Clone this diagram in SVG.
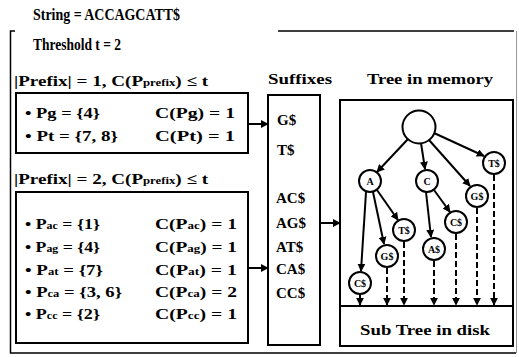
<svg xmlns="http://www.w3.org/2000/svg" width="519" height="357" viewBox="0 0 519 357">
<defs>
<marker id="ah" markerWidth="8" markerHeight="8" viewBox="0 0 10 10" refX="9" refY="5" orient="auto" markerUnits="userSpaceOnUse">
<path d="M0,0 L10,5 L0,10 Z" fill="#000"/>
</marker>
<style>
text{font-family:"Liberation Serif","Times New Roman",serif;font-weight:bold;fill:#000}
.t15{font-size:15px}
.t16{font-size:16px}
.lbl{font-size:10px;text-anchor:middle}
.sub{font-size:10px}
.box{fill:#fff;stroke:#000;stroke-width:2}
.frame{fill:none;stroke:#000;stroke-width:1.5}
.node{fill:#fff;stroke:#000;stroke-width:2}
.edge{fill:none;stroke:#000;stroke-width:2;marker-end:url(#ah)}
.dash{fill:none;stroke:#000;stroke-width:2;stroke-dasharray:6,3;marker-end:url(#ah)}
</style>
</defs>
<rect width="519" height="357" fill="#fff"/>

<g id="frame">
<path class="frame" d="M15,31 H10.5 V353 H516 M278,31 H514"/>
<line x1="516.5" y1="31" x2="516.5" y2="353" stroke="#999" stroke-width="1"/>
</g>

<g id="header">
<text class="t16" x="33" y="20" textLength="147" lengthAdjust="spacingAndGlyphs">String = ACCAGCATT$</text>
<text class="t16" x="33" y="50" textLength="88" lengthAdjust="spacingAndGlyphs">Threshold t = 2</text>
</g>

<g id="prefix1">
<text class="t15" x="14" y="86" textLength="194" lengthAdjust="spacingAndGlyphs">|Prefix| = 1, C(P<tspan class="sub">prefix</tspan>) ≤ t</text>
<rect class="box" x="16" y="93" width="232" height="60"/>
<text class="t15" x="25" y="118" textLength="75" lengthAdjust="spacingAndGlyphs">• Pg = {4}</text>
<text class="t15" x="155" y="118" textLength="80" lengthAdjust="spacingAndGlyphs">C(Pg) = 1</text>
<text class="t15" x="25" y="141" textLength="93" lengthAdjust="spacingAndGlyphs">• Pt = {7, 8}</text>
<text class="t15" x="155" y="141" textLength="80" lengthAdjust="spacingAndGlyphs">C(Pt) = 1</text>
</g>

<g id="prefix2">
<text class="t15" x="14" y="184" textLength="194" lengthAdjust="spacingAndGlyphs">|Prefix| = 2, C(P<tspan class="sub">prefix</tspan>) ≤ t</text>
<rect class="box" x="16" y="192" width="232" height="151"/>
<text class="t15" x="25" y="229" textLength="75" lengthAdjust="spacingAndGlyphs">• P<tspan class="sub">ac</tspan> = {1}</text>
<text class="t15" x="155" y="229" textLength="82" lengthAdjust="spacingAndGlyphs">C(P<tspan class="sub">ac</tspan>) = 1</text>
<text class="t15" x="25" y="252" textLength="75" lengthAdjust="spacingAndGlyphs">• P<tspan class="sub">ag</tspan> = {4}</text>
<text class="t15" x="155" y="252" textLength="82" lengthAdjust="spacingAndGlyphs">C(P<tspan class="sub">ag</tspan>) = 1</text>
<text class="t15" x="25" y="275" textLength="78" lengthAdjust="spacingAndGlyphs">• P<tspan class="sub">at</tspan>  = {7}</text>
<text class="t15" x="155" y="275" textLength="82" lengthAdjust="spacingAndGlyphs">C(P<tspan class="sub">at</tspan>) = 1</text>
<text class="t15" x="25" y="297" textLength="97" lengthAdjust="spacingAndGlyphs">• P<tspan class="sub">ca</tspan> = {3, 6}</text>
<text class="t15" x="155" y="297" textLength="82" lengthAdjust="spacingAndGlyphs">C(P<tspan class="sub">ca</tspan>) = 2</text>
<text class="t15" x="25" y="319" textLength="75" lengthAdjust="spacingAndGlyphs">• P<tspan class="sub">cc</tspan> = {2}</text>
<text class="t15" x="155" y="319" textLength="82" lengthAdjust="spacingAndGlyphs">C(P<tspan class="sub">cc</tspan>) = 1</text>
</g>

<g id="suffixes">
<text class="t15" x="268" y="84" textLength="64" lengthAdjust="spacingAndGlyphs">Suffixes</text>
<rect class="box" x="268" y="95" width="52" height="250"/>
<text class="t15" x="277" y="125">G$</text>
<text class="t15" x="277" y="155">T$</text>
<text class="t15" x="276" y="203">AC$</text>
<text class="t15" x="276" y="228">AG$</text>
<text class="t15" x="276" y="252">AT$</text>
<text class="t15" x="276" y="274">CA$</text>
<text class="t15" x="276" y="298">CC$</text>
</g>

<g id="tree">
<text class="t15" x="367" y="84" textLength="126" lengthAdjust="spacingAndGlyphs">Tree in memory</text>
<rect class="box" x="340" y="100" width="173" height="246"/>
<line x1="340" y1="306" x2="513" y2="306" stroke="#000" stroke-width="2"/>
<text class="t15" x="360" y="335" textLength="130" lengthAdjust="spacingAndGlyphs">Sub Tree in disk</text>
</g>

<g id="connectors">
<line class="edge" x1="248" y1="124" x2="268" y2="124"/>
<line class="edge" x1="248" y1="268" x2="268" y2="268"/>
<line class="edge" x1="320" y1="223" x2="340" y2="223"/>
<line class="edge" x1="408" y1="139" x2="377" y2="172"/>
<line class="edge" x1="421" y1="143" x2="425" y2="169"/>
<line class="edge" x1="429" y1="140" x2="470" y2="186"/>
<line class="edge" x1="434" y1="133" x2="484" y2="156"/>
<line class="edge" x1="366" y1="192" x2="361" y2="271"/>
<line class="edge" x1="373" y1="192" x2="384" y2="244"/>
<line class="edge" x1="377" y1="190" x2="398" y2="220"/>
<line class="edge" x1="426" y1="192" x2="431" y2="237"/>
<line class="edge" x1="434" y1="190" x2="450" y2="212"/>
<line class="edge" x1="360" y1="295" x2="360" y2="305"/>
<line class="dash" x1="387" y1="268" x2="387" y2="305"/>
<line class="dash" x1="404" y1="242" x2="404" y2="305"/>
<line class="dash" x1="434" y1="261" x2="434" y2="305"/>
<line class="dash" x1="456" y1="234" x2="456" y2="305"/>
<line class="dash" x1="477" y1="208" x2="477" y2="305"/>
<line class="dash" x1="494" y1="175" x2="494" y2="305"/>
</g>

<g id="n-root"><circle class="node" cx="419" cy="127" r="16.5"/></g>
<g id="n-A"><circle class="node" cx="370" cy="181" r="11"/><text class="lbl" x="370" y="184.5">A</text></g>
<g id="n-C"><circle class="node" cx="427" cy="181" r="11"/><text class="lbl" x="427" y="184.5">C</text></g>
<g id="n-T1"><circle class="node" cx="494" cy="163" r="11"/><text class="lbl" x="494" y="166.5">T$</text></g>
<g id="n-G1"><circle class="node" cx="477" cy="196" r="11"/><text class="lbl" x="477" y="199.5">G$</text></g>
<g id="n-T2"><circle class="node" cx="404" cy="230" r="11"/><text class="lbl" x="404" y="233.5">T$</text></g>
<g id="n-C2"><circle class="node" cx="456" cy="222" r="11"/><text class="lbl" x="456" y="225.5">C$</text></g>
<g id="n-G2"><circle class="node" cx="387" cy="256" r="11"/><text class="lbl" x="387" y="259.5">G$</text></g>
<g id="n-A2"><circle class="node" cx="434" cy="249" r="11"/><text class="lbl" x="434" y="252.5">A$</text></g>
<g id="n-C3"><circle class="node" cx="360" cy="283" r="11"/><text class="lbl" x="360" y="286.5">C$</text></g>
</svg>
